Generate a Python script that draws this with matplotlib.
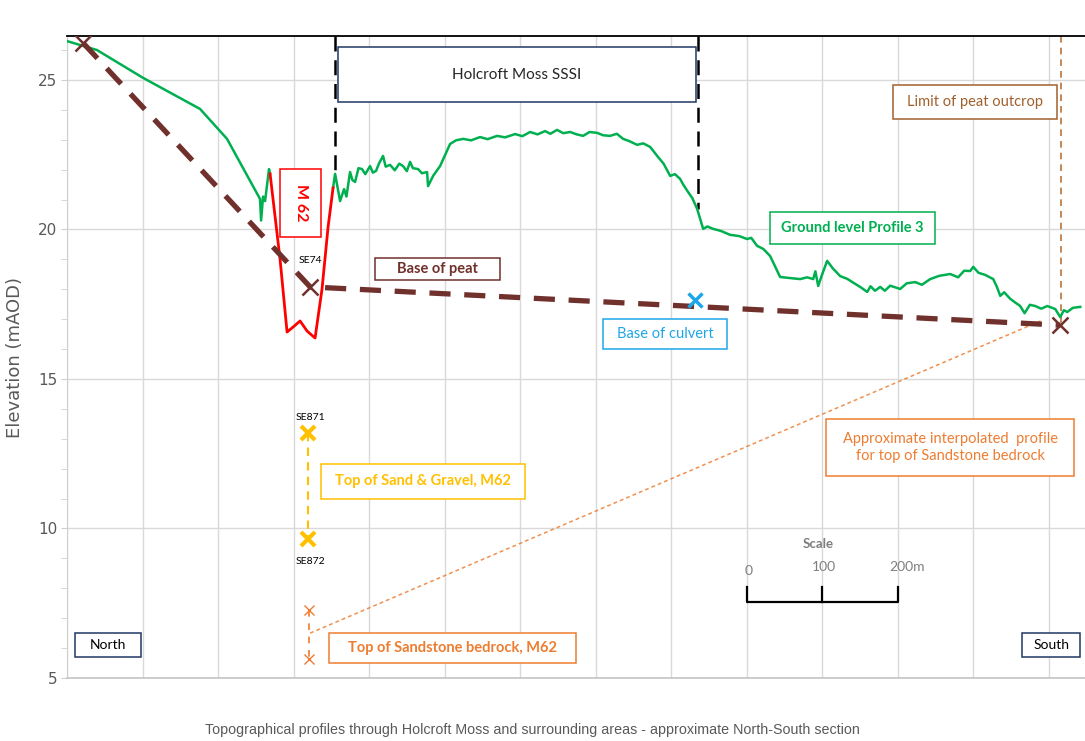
import matplotlib.pyplot as plt
from matplotlib.patches import Rectangle
from matplotlib.ticker import MultipleLocator

# Ground level profile 3, north of the M62 cutting (distance m, elevation mAOD)
north_x = [0, 39.7, 100.7, 176.2, 211.9, 255.6, 257.0, 259.6, 262.3, 267.5, 268.9]
north_y = [26.30, 26.00, 25.07, 24.03, 23.03, 21.02, 20.30, 21.10, 20.95, 22.02, 21.86]

# Ground level profile 3, south of the M62 cutting
south_x = [352.3, 355.0, 361.6, 366.9, 370.0, 374.8, 378.0, 381.5, 386.0, 390.7, 395.0,
           401.3, 405.0, 409.3, 413.0, 418.5, 422.0, 427.8, 434.0, 440.0, 445.0, 450.0,
           454.3, 458.0, 464.9, 470.0, 476.8, 478.1, 485.0, 494.0, 500.0, 507.3, 515.0,
           524.5, 535.0, 547.0, 557.0, 569.5, 580.0, 593.4, 603.0, 613.2, 623.0, 633.1,
           640.0, 649.0, 657.0, 666.2, 675.0, 683.4, 692.0, 702.0, 710.0, 719.2, 728.0,
           736.4, 745.0, 754.9, 763.0, 772.2, 781.5, 790.0, 798.7, 805.0, 811.9, 816.0,
           822.5, 828.0, 834.4, 842.4, 848.0, 855.6, 866.0, 878.1, 890.0, 900.6, 906.0,
           913.9, 922.0, 931.1, 937.0, 944.3, 956.0, 970.8, 980.0, 988.1, 991.0, 994.7,
           1000.0, 1006.6, 1014.0, 1023.8, 1033.0, 1043.7, 1052.0, 1059.6, 1064.0, 1070.0,
           1076.8, 1083.0, 1090.0, 1103.3, 1112.0, 1123.2, 1132.0, 1143.0, 1155.0, 1169.5,
           1180.0, 1188.0, 1196.0, 1200.0, 1207.0, 1215.9, 1226.5, 1231.0, 1235.8, 1241.0,
           1249.0, 1256.0, 1262.2, 1268.0, 1275.0, 1282.1, 1290.0, 1298.0, 1308.6, 1315.2,
           1320.0, 1324.5, 1332.0, 1341.7]
south_y = [21.39, 21.86, 20.95, 21.35, 21.10, 21.92, 21.65, 21.59, 22.05, 22.02, 21.85,
           22.12, 21.90, 21.96, 22.20, 22.46, 22.10, 22.16, 21.98, 22.20, 22.12, 21.95,
           22.26, 22.05, 22.02, 21.88, 21.92, 21.45, 21.80, 22.12, 22.45, 22.86, 22.98,
           23.03, 22.98, 23.09, 23.02, 23.13, 23.08, 23.19, 23.12, 23.26, 23.18, 23.29,
           23.20, 23.33, 23.22, 23.26, 23.18, 23.13, 23.26, 23.23, 23.15, 23.13, 23.20,
           23.03, 22.95, 22.83, 22.88, 22.76, 22.46, 22.20, 21.79, 21.85, 21.69, 21.50,
           21.25, 21.05, 20.69, 20.02, 20.10, 20.02, 19.95, 19.82, 19.78, 19.68, 19.72,
           19.45, 19.35, 19.11, 18.80, 18.41, 18.38, 18.34, 18.40, 18.34, 18.60, 18.11,
           18.50, 18.95, 18.70, 18.44, 18.35, 18.18, 18.05, 17.91, 18.10, 17.95,
           18.08, 17.95, 18.12, 18.01, 18.20, 18.24, 18.15, 18.34, 18.45, 18.51,
           18.40, 18.62, 18.61, 18.75, 18.55, 18.48, 18.34, 18.10, 17.78, 17.90,
           17.68, 17.55, 17.44, 17.20, 17.48, 17.44, 17.35, 17.44, 17.34, 17.07,
           17.30, 17.24, 17.38, 17.41]

# M62 cutting
m62_x = [268.9, 282.1, 291.4, 300.0, 308.6, 318.0, 328.5, 337.7, 345.7, 352.3]
m62_y = [21.86, 19.01, 16.57, 16.75, 16.94, 16.60, 16.37, 18.01, 20.08, 21.39]

# Base of peat
peat_x = [21.2, 321.9, 1315.2]
peat_y = [26.24, 18.08, 16.80]

culvert_x, culvert_y = [831.8], [17.64]
sand_x, sand_y = [319.2, 319.2], [13.19, 9.65]
rock_x, rock_y = [320.5, 320.5], [7.27, 5.63]
interp_x, interp_y = [321.9, 1290.0], [6.50, 16.95]
sssi_x = [355.0, 835.8]
sssi_ground = [21.86, 20.69]
limit_x = 1316.6

GREEN = '#00b050'
RED = '#ff0000'
PEAT = '#70302c'
BLUE = '#1ea7e8'
GOLD = '#ffc000'
ORANGE = '#ed7d31'
LIMIT = '#b8733a'
NAVY = '#1f3864'
GREY = '#595959'

fig = plt.figure(figsize=(10.85, 7.41), dpi=100)
ax = fig.add_axes([67 / 1085, 1 - 678 / 741, 1 - 67 / 1085, (678 - 36) / 741])
ax.set_xlim(0, 1348)
ax.set_ylim(5, 26.47)

ax.set_xticks(range(0, 1348, 100))
ax.set_xticklabels([])
ax.tick_params(axis='x', length=0)
ax.set_yticks([5, 10, 15, 20, 25])
ax.yaxis.set_minor_locator(MultipleLocator(1))
ax.tick_params(axis='y', which='both', length=4, color='#d0d0d0', labelcolor=GREY,
               labelsize=11, pad=3)
ax.grid(True, color='#d9d9d9', linewidth=1)
ax.set_axisbelow(True)
ax.spines['right'].set_visible(False)
ax.spines['top'].set_color('black')
ax.spines['top'].set_linewidth(1.3)
ax.spines['left'].set_color('#d0d0d0')
ax.spines['bottom'].set_color('#c8c8c8')
ax.spines['bottom'].set_linewidth(1.3)
ax.set_ylabel('Elevation (mAOD)', fontsize=13, color=GREY, labelpad=10)

# SSSI boundaries and limit of peat
for sx, gy in zip(sssi_x, sssi_ground):
    ax.plot([sx, sx], [26.47, gy], color='black', lw=1.8, dashes=(6, 3.5), zorder=2)
ax.plot([limit_x, limit_x], [26.47, peat_y[-1]], color=LIMIT, lw=1.2, dashes=(4, 3), zorder=2)

# profiles
ax.plot(north_x, north_y, color=GREEN, lw=1.8, zorder=3)
ax.plot(south_x, south_y, color=GREEN, lw=1.8, zorder=3)
ax.plot(m62_x, m62_y, color=RED, lw=2, zorder=4)
ax.plot(peat_x, peat_y, color=PEAT, lw=3.8, dashes=(4, 2.6), zorder=4)
ax.plot(peat_x, peat_y, ls='none', marker='x', ms=11, mew=1.8, color=PEAT, zorder=5)
ax.plot(culvert_x, culvert_y, ls='none', marker='x', ms=10, mew=2.5, color=BLUE, zorder=5)
ax.plot(sand_x, sand_y, color=GOLD, lw=1.5, dashes=(4, 3), zorder=4)
ax.plot(sand_x, sand_y, ls='none', marker='x', ms=10, mew=3, color=GOLD, zorder=5)
ax.plot(rock_x, rock_y, color=ORANGE, lw=1.2, dashes=(4, 4), zorder=4)
ax.plot(rock_x, rock_y, ls='none', marker='x', ms=7, mew=1, color=ORANGE, zorder=5)
ax.plot(interp_x, interp_y, color=ORANGE, lw=1.1, dashes=(2.5, 2), alpha=0.85, zorder=3)

TXT = ['Lato', 'DejaVu Sans']


def label_box(x0, y0, x1, y1, text, edge, color, weight='normal', size=10.5, rot=0):
    ax.add_patch(Rectangle((x0, y0), x1 - x0, y1 - y0, facecolor='white',
                           edgecolor=edge, lw=1.1, zorder=6))
    ax.text((x0 + x1) / 2, (y0 + y1) / 2, text, ha='center', va='center', color=color,
            fontsize=size, fontweight=weight, rotation=rot, family=TXT, zorder=7,
            linespacing=1.3)


label_box(358.9, 24.26, 833.1, 26.10, 'Holcroft Moss SSSI', NAVY, '#262626', size=11)
label_box(282.1, 19.75, 336.4, 22.02, 'M 62', RED, RED, weight='bold', size=11.5, rot=270)
label_box(407.9, 18.31, 573.5, 19.05, 'Base of peat', PEAT, PEAT, weight='bold')
label_box(1094.0, 23.70, 1311.3, 24.83, 'Limit of peat outcrop', '#a0602c', '#a0602c')
label_box(931.1, 19.51, 1149.7, 20.59, 'Ground level Profile 3', GREEN, GREEN, weight='bold')
label_box(709.9, 16.00, 874.2, 17.01, 'Base of culvert', BLUE, BLUE)
label_box(1005.3, 11.76, 1333.8, 13.66,
          'Approximate interpolated  profile\nfor top of Sandstone bedrock', ORANGE, ORANGE)
label_box(336.4, 10.99, 606.6, 12.16, 'Top of Sand & Gravel, M62', GOLD, GOLD, weight='bold')
label_box(347.0, 5.50, 674.2, 6.50, 'Top of Sandstone bedrock, M62', ORANGE, ORANGE,
          weight='bold')
label_box(10.6, 5.70, 98.0, 6.50, 'North', NAVY, 'black', size=10)
label_box(1264.9, 5.70, 1341.7, 6.50, 'South', NAVY, 'black', size=10)

for tx, ty, t in [(321.9, 18.95, 'SE74'), (321.9, 13.70, 'SE871'), (321.9, 8.91, 'SE872')]:
    ax.text(tx, ty, t, ha='center', va='center', fontsize=7.5, color='black', family=TXT)

# scale bar
ax.plot([900, 900, 1100, 1100], [8.04, 7.54, 7.54, 8.04], color='black', lw=1.6, zorder=5)
ax.plot([1000, 1000], [7.54, 8.04], color='black', lw=1.6, zorder=5)
ax.text(994.7, 9.48, 'Scale', ha='center', va='center', fontsize=9.5, color='#7f7f7f',
        fontweight='bold', family=TXT)
for tx, ty, t in [(902, 8.58, '0'), (1002.6, 8.71, '100'), (1112.6, 8.71, '200m')]:
    ax.text(tx, ty, t, ha='center', va='center', fontsize=10, color='#7f7f7f', family=TXT)

fig.text(532 / 1085, 1 - 730 / 741,
         'Topographical profiles through Holcroft Moss and surrounding areas - approximate North-South section',
         ha='center', va='center', fontsize=10.3, color=GREY,
         family=['Liberation Sans', 'DejaVu Sans'])

fig.savefig('out.png', dpi=100)
